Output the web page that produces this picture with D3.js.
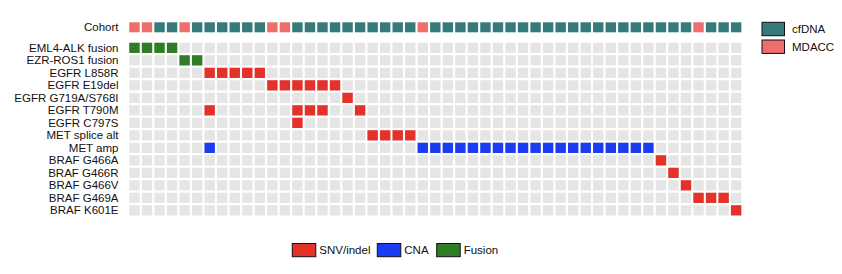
<!DOCTYPE html>
<html>
<head>
<meta charset="utf-8">
<script src="https://cdn.jsdelivr.net/npm/d3@7/dist/d3.min.js"></script>
<style>
html,body{margin:0;padding:0;background:#fff;}
svg{display:block;font-family:"Liberation Sans",Arial,Helvetica,sans-serif;}
</style>
</head>
<body>
<svg id="chart" width="842" height="274"></svg>
<script>
// ---- data ----
const genes = ["EML4-ALK fusion","EZR-ROS1 fusion","EGFR L858R","EGFR E19del","EGFR G719A/S768I",
  "EGFR T790M","EGFR C797S","MET splice alt","MET amp","BRAF G466A","BRAF G466R","BRAF G466V",
  "BRAF G469A","BRAF K601E"];
const nSamples = 49;
const samples = d3.range(nSamples);
const mdaccSamples = [0,1,4,11,12,23,45];
const cohortTypes = ["cfDNA","MDACC"];
const alterationTypes = ["SNV/indel","CNA","Fusion"];
// gene -> [sample indices, alteration type]
const alterations = [
  ["EML4-ALK fusion", [0,1,2,3], "Fusion"],
  ["EZR-ROS1 fusion", [4,5], "Fusion"],
  ["EGFR L858R", [6,7,8,9,10], "SNV/indel"],
  ["EGFR E19del", [11,12,13,14,15,16], "SNV/indel"],
  ["EGFR G719A/S768I", [17], "SNV/indel"],
  ["EGFR T790M", [6,13,14,15,18], "SNV/indel"],
  ["EGFR C797S", [13], "SNV/indel"],
  ["MET splice alt", [19,20,21,22], "SNV/indel"],
  ["MET amp", [6,23,24,25,26,27,28,29,30,31,32,33,34,35,36,37,38,39,40,41], "CNA"],
  ["BRAF G466A", [42], "SNV/indel"],
  ["BRAF G466R", [43], "SNV/indel"],
  ["BRAF G466V", [44], "SNV/indel"],
  ["BRAF G469A", [45,46,47], "SNV/indel"],
  ["BRAF K601E", [48], "SNV/indel"]
];

// ---- styles ----
const altColor = d3.scaleOrdinal().domain(alterationTypes).range(["#E4322B","#1B3DF2","#2F7D24"]);
const cohortColor = d3.scaleOrdinal().domain(cohortTypes).range(["#367B7A","#EE6E6C"]);
const bgColor = "#E5E5E5";

const svg = d3.select("#chart");
const step = 12.535;
const x0 = 128.2;
const x = d3.scaleBand().domain(samples).range([x0, x0 + step*nSamples]).paddingInner(0.17).paddingOuter(0.085);
const rowStep = 12.5;
const y0 = 41.6;
const y = d3.scaleBand().domain(genes).range([y0, y0 + rowStep*genes.length]).paddingInner(0.18).paddingOuter(0.09);

// cohort row
const cohortY = 22.3, cohortH = 10;
const cohortOf = i => mdaccSamples.includes(i) ? "MDACC" : "cfDNA";
svg.append("g").selectAll("rect").data(samples).join("rect")
  .attr("x", d => x(d)).attr("y", cohortY)
  .attr("width", x.bandwidth()).attr("height", cohortH)
  .attr("fill", d => cohortColor(cohortOf(d)));
svg.append("text").attr("x", 118.5).attr("y", cohortY + cohortH/2 + 4)
  .attr("text-anchor","end").attr("font-size", 11.5).attr("fill","#111").text("Cohort");

// background grid
const cells = [];
genes.forEach(g => samples.forEach(s => cells.push({g, s})));
svg.append("g").selectAll("rect").data(cells).join("rect")
  .attr("x", d => x(d.s)).attr("y", d => y(d.g))
  .attr("width", x.bandwidth()).attr("height", y.bandwidth())
  .attr("fill", bgColor);

// alterations
const altCells = [];
alterations.forEach(([g, ss, t]) => ss.forEach(s => altCells.push({g, s, t})));
svg.append("g").selectAll("rect").data(altCells).join("rect")
  .attr("x", d => x(d.s)).attr("y", d => y(d.g))
  .attr("width", x.bandwidth()).attr("height", y.bandwidth())
  .attr("fill", d => altColor(d.t));

// row labels
svg.append("g").selectAll("text").data(genes).join("text")
  .attr("x", 118.5).attr("y", d => y(d) + y.bandwidth()/2 + 4)
  .attr("text-anchor","end").attr("font-size", 11.5).attr("fill","#111")
  .text(d => d);

// cohort legend
const cl = svg.append("g");
cohortTypes.forEach((c, i) => {
  const yy = 22.3 + i*17.7;
  cl.append("rect").attr("x", 762).attr("y", yy).attr("width", 22.5).attr("height", 13.4)
    .attr("fill", cohortColor(c)).attr("stroke","#111").attr("stroke-width",1);
  cl.append("text").attr("x", 792).attr("y", yy + 10.7).attr("font-size", 11.5).attr("fill","#111").text(c);
});

// alteration legend
const legX = [292.3, 377.3, 436.7];
const al = svg.append("g");
alterationTypes.forEach((t, i) => {
  al.append("rect").attr("x", legX[i]).attr("y", 243.5).attr("width", 23.5).attr("height", 13.2)
    .attr("fill", altColor(t)).attr("stroke","#111").attr("stroke-width",1);
  al.append("text").attr("x", legX[i] + 27).attr("y", 254.3).attr("font-size", 11.5).attr("fill","#111").text(t);
});
</script>
</body>
</html>
